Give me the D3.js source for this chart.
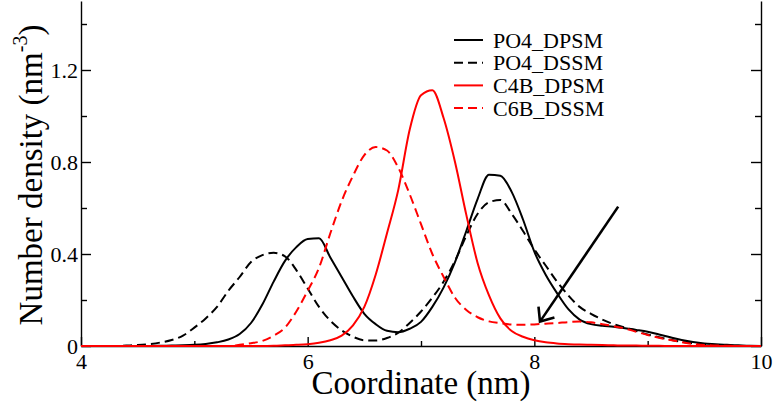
<!DOCTYPE html>
<html>
<head>
<meta charset="utf-8">
<script src="https://d3js.org/d3.v7.min.js"></script>
<style>
  body { margin: 0; background: #fff; }
  svg { display: block; font-family: "Liberation Serif", "Times New Roman", serif; }
  .axis text { font-family: "Liberation Serif", "Times New Roman", serif; font-size: 22px; fill: #000; }
  .axis path, .axis line { stroke: #000; stroke-width: 1.4; }
</style>
</head>
<body>
<div id="vis"></div>
<script>
// coordinate grid (nm), 4.0 .. 10.0 in steps of 0.1
var coord = d3.range(0, 61).map(function(i) { return +(4 + i * 0.1).toFixed(1); });

// number densities (nm^-3)
var po4Dpsm = [0, 0, 0, 0, 0, 0, 0, 0.001, 0.002, 0.003,
  0.005, 0.009, 0.016, 0.028, 0.052, 0.1, 0.18, 0.28, 0.37, 0.43,
  0.465, 0.468, 0.385, 0.3, 0.215, 0.14, 0.095, 0.066, 0.06, 0.075,
  0.105, 0.17, 0.255, 0.365, 0.5, 0.64, 0.745, 0.74, 0.67, 0.55,
  0.41, 0.31, 0.23, 0.16, 0.115, 0.095, 0.088, 0.084, 0.077, 0.07,
  0.062, 0.05, 0.038, 0.026, 0.017, 0.011, 0.008, 0.005, 0.003, 0.001, 0];

var po4Dssm = [0, 0, 0, 0, 0.002, 0.004, 0.008, 0.015, 0.026, 0.045,
  0.08, 0.12, 0.17, 0.24, 0.3, 0.365, 0.395, 0.405, 0.39, 0.33,
  0.25, 0.17, 0.11, 0.068, 0.04, 0.025, 0.024, 0.035, 0.058, 0.1,
  0.15, 0.21, 0.28, 0.37, 0.48, 0.575, 0.625, 0.635, 0.575, 0.5,
  0.42, 0.35, 0.28, 0.22, 0.17, 0.14, 0.115, 0.095, 0.08, 0.065,
  0.05, 0.038, 0.027, 0.018, 0.011, 0.006, 0.003, 0.001, 0, 0, 0];

var c4bDpsm = [0, 0, 0, 0, 0, 0, 0, 0, 0, 0,
  0, 0, 0, 0, 0, 0, 0, 0.001, 0.003, 0.005,
  0.008, 0.014, 0.025, 0.045, 0.09, 0.17, 0.31, 0.49, 0.68, 0.94,
  1.09, 1.112, 0.99, 0.8, 0.57, 0.36, 0.22, 0.12, 0.065, 0.04,
  0.025, 0.016, 0.011, 0.008, 0.006, 0.005, 0.004, 0.003, 0.002, 0.002,
  0.001, 0.001, 0, 0, 0, 0, 0, 0, 0, 0, 0];

var c6bDssm = [0, 0, 0, 0, 0, 0, 0, 0, 0, 0,
  0, 0, 0, 0, 0.005, 0.012, 0.022, 0.045, 0.08, 0.15,
  0.24, 0.34, 0.49, 0.63, 0.74, 0.83, 0.865, 0.85, 0.775, 0.66,
  0.53, 0.4, 0.3, 0.21, 0.157, 0.125, 0.107, 0.099, 0.093, 0.092,
  0.094, 0.097, 0.1, 0.104, 0.106, 0.103, 0.095, 0.086, 0.076, 0.062,
  0.048, 0.036, 0.026, 0.017, 0.009, 0.004, 0.002, 0.001, 0, 0, 0];

var seriesNames = ['PO4_DPSM', 'PO4_DSSM', 'C4B_DPSM', 'C6B_DSSM'];
var seriesValues = [po4Dpsm, po4Dssm, c4bDpsm, c6bDssm];
var seriesColors = ['#000000', '#000000', '#ff0000', '#ff0000'];
var seriesDashed = [false, true, false, true];

var xTicks = [4, 6, 8, 10],
    xMinor = [5, 7, 9],
    yTicks = [0, 0.4, 0.8, 1.2],
    yMinor = [0.2, 0.6, 1.0, 1.4];

// arrow annotation: [from, to] in data units
var arrowFrom = [8.74, 0.606],
    arrowTo = [8.05, 0.106];

var width = 774, height = 402;
var margin = {top: 1, right: 13, bottom: 56, left: 81};

var svg = d3.select('#vis').append('svg')
  .attr('width', width)
  .attr('height', height);

var x = d3.scaleLinear().domain([4, 10]).range([margin.left, width - margin.right]),
    y = d3.scaleLinear().domain([0, 1.5]).range([height - margin.bottom, margin.top]);

var fmt = function(d) { return d === 0 ? '0' : d3.format('.1f')(d); };

/* axes, ticks pointing inward */
svg.append('g')
  .attr('class', 'axis')
  .attr('transform', 'translate(0,' + y(0) + ')')
  .call(d3.axisBottom(x).tickValues(xTicks).tickFormat(d3.format('d'))
    .tickSizeInner(-9).tickSizeOuter(0).tickPadding(7));

svg.append('g')
  .attr('class', 'axis')
  .attr('transform', 'translate(0,' + y(0) + ')')
  .call(d3.axisBottom(x).tickValues(xMinor).tickFormat('').tickSizeInner(-5).tickSizeOuter(0))
  .select('.domain').remove();

svg.append('g')
  .attr('class', 'axis')
  .attr('transform', 'translate(' + x(4) + ',0)')
  .call(d3.axisLeft(y).tickValues(yTicks).tickFormat(fmt)
    .tickSizeInner(-10).tickSizeOuter(0).tickPadding(3));

svg.append('g')
  .attr('class', 'axis')
  .attr('transform', 'translate(' + x(4) + ',0)')
  .call(d3.axisLeft(y).tickValues(yMinor).tickFormat('').tickSizeInner(-6).tickSizeOuter(0))
  .select('.domain').remove();

svg.append('g')
  .attr('class', 'axis')
  .attr('transform', 'translate(' + x(10) + ',0)')
  .call(d3.axisRight(y).tickValues(yTicks).tickFormat('').tickSizeInner(-10).tickSizeOuter(0));

svg.append('g')
  .attr('class', 'axis')
  .attr('transform', 'translate(' + x(10) + ',0)')
  .call(d3.axisRight(y).tickValues(yMinor).tickFormat('').tickSizeInner(-6).tickSizeOuter(0))
  .select('.domain').remove();

/* density profiles */
var line = d3.line()
  .curve(d3.curveMonotoneX)
  .x(function(d) { return x(d[0]); })
  .y(function(d) { return y(d[1]); });

seriesValues.forEach(function(vals, i) {
  svg.append('path')
    .datum(coord.map(function(c, j) { return [c, vals[j]]; }))
    .attr('fill', 'none')
    .attr('stroke', seriesColors[i])
    .attr('stroke-width', 2)
    .attr('stroke-linejoin', 'round')
    .attr('stroke-dasharray', seriesDashed[i] ? '9,5' : null)
    .attr('d', line);
});

/* legend */
var legend = svg.append('g').attr('transform', 'translate(454,40)');
seriesNames.forEach(function(name, i) {
  var row = legend.append('g').attr('transform', 'translate(0,' + (i * 22.7) + ')');
  row.append('line')
    .attr('x1', 0).attr('x2', 29)
    .attr('stroke', seriesColors[i])
    .attr('stroke-width', 2)
    .attr('stroke-dasharray', seriesDashed[i] ? '9,5' : null);
  row.append('text')
    .attr('x', 39)
    .attr('y', 7.5)
    .attr('font-size', '22px')
    .text(name);
});

/* arrow pointing at the C6B shoulder */
var ax0 = x(arrowFrom[0]), ay0 = y(arrowFrom[1]),
    ax1 = x(arrowTo[0]), ay1 = y(arrowTo[1]);
var ang = Math.atan2(ay0 - ay1, ax0 - ax1),
    barb = 15, spread = 40 * Math.PI / 180;

svg.append('line')
  .attr('x1', ax0).attr('y1', ay0)
  .attr('x2', ax1).attr('y2', ay1)
  .attr('stroke', '#000')
  .attr('stroke-width', 2.6);

svg.append('path')
  .attr('d', 'M' + (ax1 + barb * Math.cos(ang - spread)) + ',' + (ay1 + barb * Math.sin(ang - spread)) +
             'L' + ax1 + ',' + ay1 +
             'L' + (ax1 + barb * Math.cos(ang + spread)) + ',' + (ay1 + barb * Math.sin(ang + spread)))
  .attr('fill', 'none')
  .attr('stroke', '#000')
  .attr('stroke-width', 2.6);

/* axis titles */
svg.append('text')
  .attr('x', (x(4) + x(10)) / 2)
  .attr('y', 394)
  .attr('text-anchor', 'middle')
  .attr('font-size', '33px')
  .text('Coordinate (nm)');

var yTitle = svg.append('text')
  .attr('transform', 'translate(42,175) rotate(-90)')
  .attr('text-anchor', 'middle')
  .attr('font-size', '33px');
yTitle.append('tspan').text('Number density (nm');
yTitle.append('tspan').attr('font-size', '20px').attr('dy', -15).text('-3');
yTitle.append('tspan').attr('dy', 15).text(')');
</script>
</body>
</html>
